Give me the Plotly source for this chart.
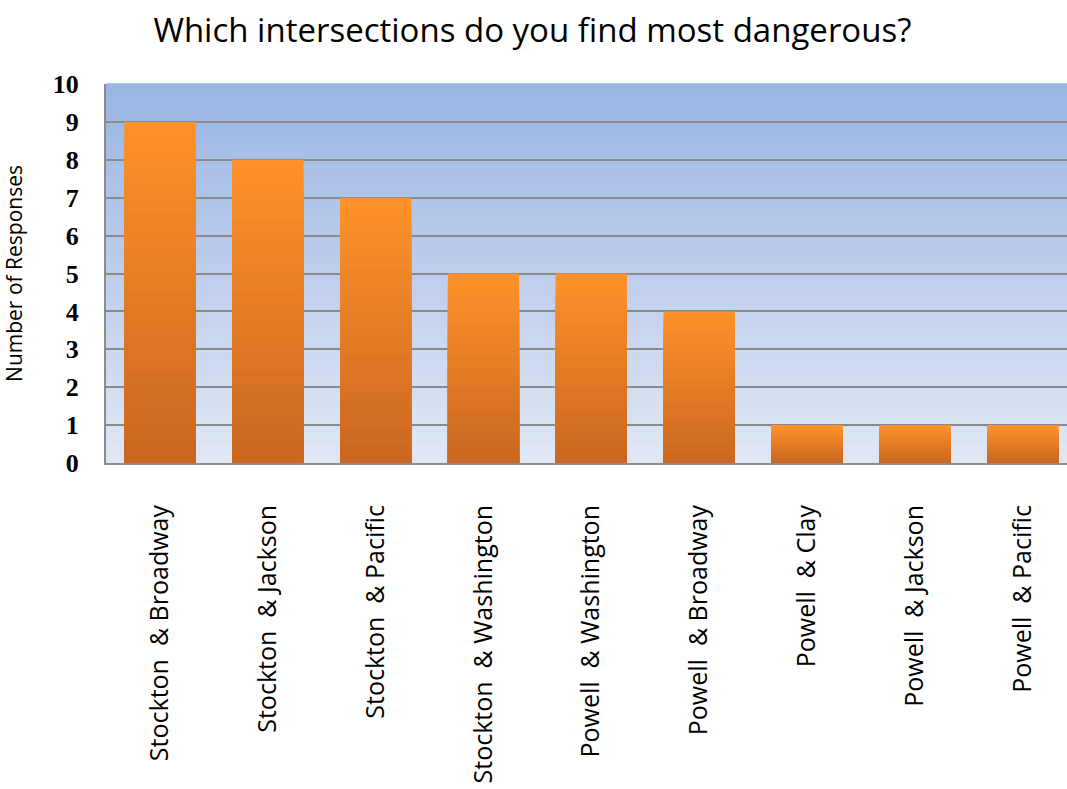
import plotly.graph_objects as go

# Survey results: responses per intersection
intersections = [
    "Stockton\u00a0\u00a0& Broadway",
    "Stockton\u00a0\u00a0& Jackson",
    "Stockton\u00a0\u00a0& Pacific",
    "Stockton\u00a0\u00a0& Washington",
    "Powell\u00a0\u00a0& Washington",
    "Powell\u00a0\u00a0& Broadway",
    "Powell\u00a0\u00a0& Clay",
    "Powell\u00a0\u00a0& Jackson",
    "Powell\u00a0\u00a0& Pacific",
]
responses = [9, 8, 7, 5, 5, 4, 1, 1, 1]
y_ticks = list(range(0, 11))


def mix(c1, c2, t):
    return "rgb({},{},{})".format(*[round(a + (b - a) * t) for a, b in zip(c1, c2)])


fig = go.Figure()

# Orange vertical gradient inside each bar: stacked overlay layers,
# lightest (full height) first, darker shorter layers on top.
N = 30
top_c, bot_c = (253, 145, 42), (203, 103, 32)
for k in range(N):
    frac = 1 - k / N
    fig.add_trace(go.Bar(
        x=intersections,
        y=[v * frac for v in responses],
        width=0.66,
        marker=dict(color=mix(top_c, bot_c, k / (N - 1)), line=dict(width=0)),
        hoverinfo="skip" if k else "x+y",
        showlegend=False,
    ))

# Blue vertical gradient for the plot background
shapes = []
M = 60
bg_top, bg_bot = (154, 181, 227), (224, 231, 244)
for i in range(M):
    shapes.append(dict(
        type="rect", xref="x domain", yref="y domain",
        x0=0, x1=1, y0=1 - (i + 1) / M, y1=1 - i / M + 0.002,
        fillcolor=mix(bg_top, bg_bot, i / (M - 1)),
        line=dict(width=0), layer="below",
    ))

fig.update_layout(
    width=1067, height=789,
    margin=dict(l=106, r=0, t=84, b=326),
    paper_bgcolor="white",
    plot_bgcolor="rgba(0,0,0,0)",
    barmode="overlay",
    shapes=shapes,
    title=dict(
        text="Which intersections do you find most dangerous?",
        x=0.499, xanchor="center", y=0.962, yanchor="middle",
        font=dict(family="Open Sans", size=33, color="black"),
    ),
    xaxis=dict(
        range=[-0.5, 8.41],
        tickangle=-90,
        tickfont=dict(family="Open Sans", size=25, color="black"),
        ticks="", showgrid=False,
        showline=True, linecolor="#8c8c8c", linewidth=2,
        ticklabelstandoff=30,
    ),
    yaxis=dict(
        range=[0, 10],
        tickvals=y_ticks,
        tickfont=dict(family="Liberation Serif", size=26, color="black",
                      weight="bold"),
        showgrid=True, gridcolor="#8a8a8a", gridwidth=1.5,
        showline=True, linecolor="#8c8c8c", linewidth=2,
        zeroline=False, ticks="",
        ticklabelstandoff=20,
        title=dict(text="Number of Responses",
                   font=dict(family="Open Sans", size=21, color="black"),
                   standoff=26),
    ),
)

fig.write_html("out.html")
